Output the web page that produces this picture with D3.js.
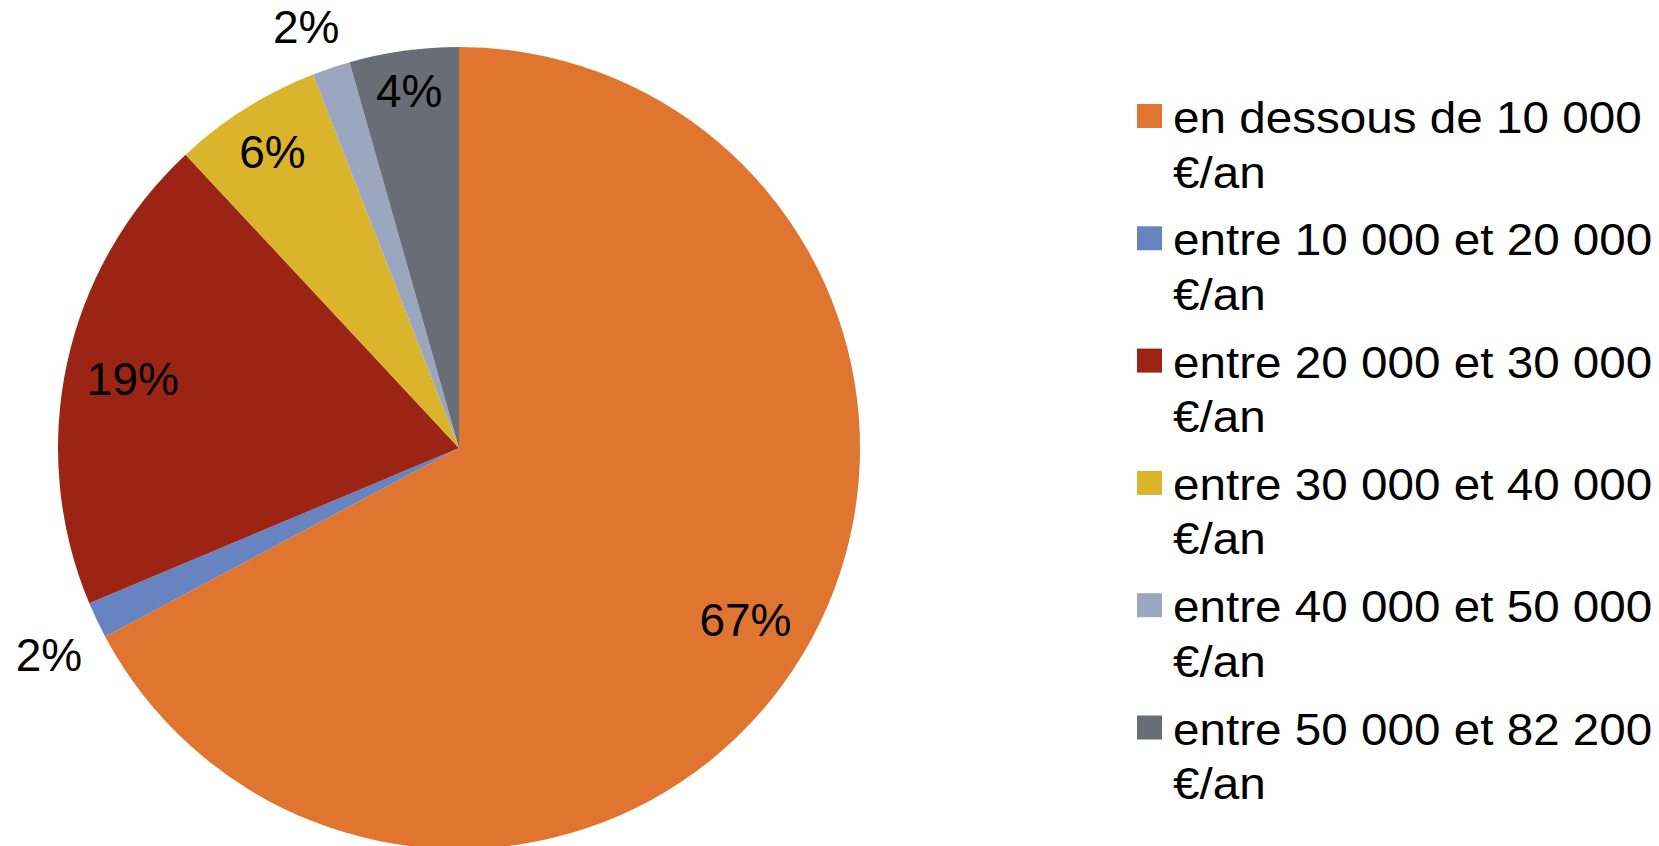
<!DOCTYPE html>
<html>
<head>
<meta charset="utf-8">
<script src="https://cdn.jsdelivr.net/npm/d3@7"></script>
<style>
  html, body { margin: 0; padding: 0; background: #fff; }
  svg { display: block; }
  text { font-family: Arial, "Liberation Sans", sans-serif; fill: #000; }
</style>
</head>
<body>
<svg id="chart" width="1659" height="846"></svg>
<script>
// ---- data ----
const categories = [
  "en dessous de 10 000 €/an",
  "entre 10 000 et 20 000 €/an",
  "entre 20 000 et 30 000 €/an",
  "entre 30 000 et 40 000 €/an",
  "entre 40 000 et 50 000 €/an",
  "entre 50 000 et 82 200 €/an"
];
const values = [67.2, 1.47, 19.39, 6.01, 1.53, 4.4];
const percentLabels = ["67%", "2%", "19%", "6%", "2%", "4%"];
const labelPlacement = ["inside", "outside", "inside", "inside", "outside", "inside"];
const colors = ["#E0752F", "#6784C0", "#9C2414", "#DAB42A", "#9BA6BF", "#686D76"];

// ---- layout ----
const cx = 459, cy = 448, R = 401;
const capH = 33;            // approx cap height of 46px label font
const insideMargin = 19;    // label box outer edge distance from rim
const outsideGap = 21;      // label box inner edge distance from rim
const outsideNudge = -1.3 * Math.PI / 180;
const svg = d3.select("#chart");

const pie = d3.pie().sort(null).value(d => d)(values);
const arc = d3.arc().innerRadius(0).outerRadius(R);

const g = svg.append("g").attr("transform", `translate(${cx},${cy})`);
g.selectAll("path.slice").data(pie).enter().append("path")
  .attr("class", "slice")
  .attr("d", arc)
  .attr("fill", (d, i) => colors[i]);

g.selectAll("text.lbl").data(pie).enter().append("text")
  .attr("class", "lbl")
  .attr("text-anchor", "middle")
  .attr("dy", "0.36em")
  .style("font-size", "46px")
  .text((d, i) => percentLabels[i])
  .each(function (d, i) {
    const w = this.getComputedTextLength();
    let a = (d.startAngle + d.endAngle) / 2;
    let rho;
    if (labelPlacement[i] === "inside") {
      rho = (R - insideMargin) - (capH / 2) * Math.abs(Math.cos(a)) - (w / 2) * Math.abs(Math.sin(a));
    } else {
      a += outsideNudge;
      rho = R + outsideGap + (capH / 2) * Math.abs(Math.cos(a)) + (w / 2) * Math.abs(Math.sin(a));
    }
    const x = rho * Math.sin(a), y = -rho * Math.cos(a);
    d3.select(this).attr("transform", `translate(${x},${y})`);
  });

// ---- legend ----
const legX = 1137, legY = 104, legStep = 122.3, lineH = 54.5;
const leg = svg.append("g");
categories.forEach((c, i) => {
  const y = legY + i * legStep;
  leg.append("rect")
    .attr("x", legX).attr("y", y)
    .attr("width", 25).attr("height", 24)
    .attr("fill", colors[i]);
  const idx = c.lastIndexOf(" ");
  const lines = [c.slice(0, idx), c.slice(idx + 1)];
  lines.forEach((ln, j) => {
    leg.append("text")
      .attr("transform", `translate(${legX + 36},${y + 29 + j * lineH}) scale(1.095,1)`)
      .style("font-size", "43.5px")
      .text(ln);
  });
});
</script>
</body>
</html>
